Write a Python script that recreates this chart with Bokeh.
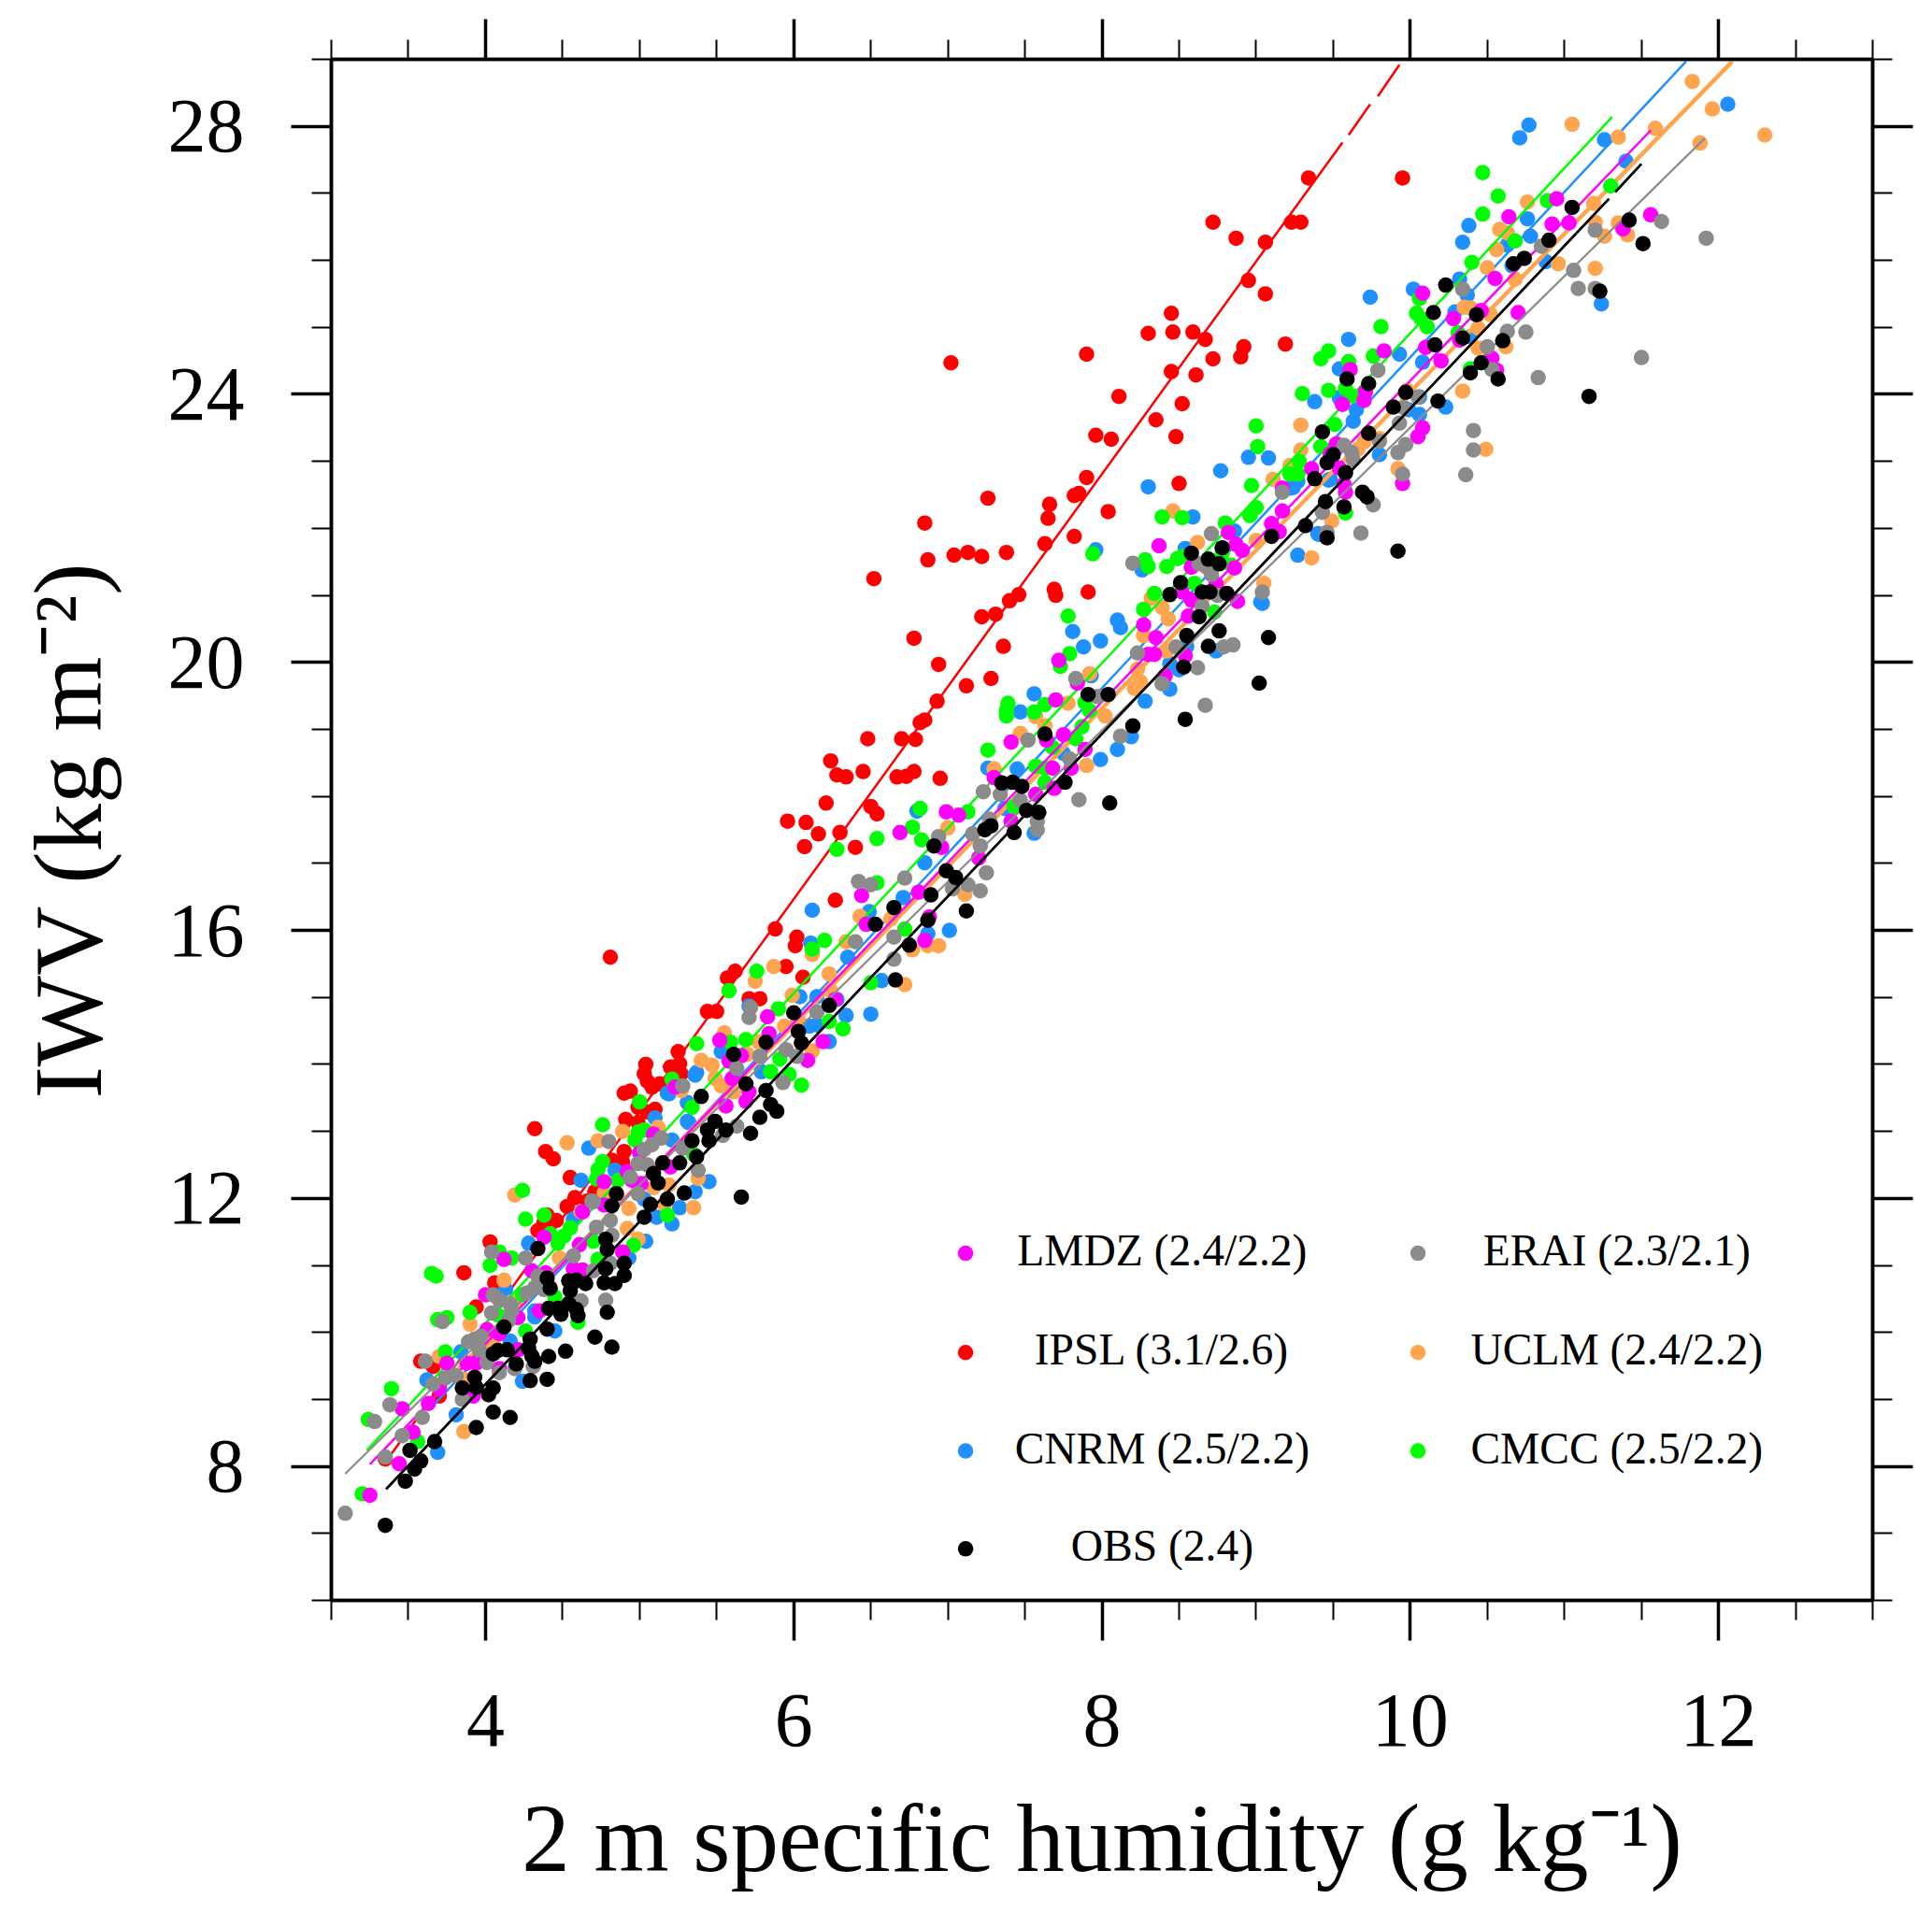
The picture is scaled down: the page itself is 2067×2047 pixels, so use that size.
from bokeh.plotting import figure
from bokeh.models import LinearAxis, FixedTicker, Range1d
from bokeh.core.properties import value
from bokeh.embed import file_html
from bokeh.resources import INLINE

FONT = "Liberation Serif"
x_title = "2 m specific humidity (g kg\u207b\u00b9)"
y_title = "IWV (kg m\u207b\u00b2)"
x_major = [4, 6, 8, 10, 12]
x_minor = [3, 3.5, 4.5, 5, 5.5, 6.5, 7, 7.5, 8.5, 9, 9.5, 10.5, 11, 11.5, 12.5, 13]
y_major = [8, 12, 16, 20, 24, 28]
y_minor = [6, 7, 9, 10, 11, 13, 14, 15, 17, 18, 19, 21, 22, 23, 25, 26, 27, 29]

ipsl_pts = [(9.34,27.23),(9.95,27.23),(8.72,26.57),(8.87,26.33),(9.23,26.57),(9.29,26.57),(9.06,26.27),(8.95,25.70),(9.06,25.50),(8.45,25.21),(8.30,24.91),(8.46,24.93),(8.59,24.93),(8.67,24.82),(7.02,24.47),(7.90,24.60),(8.92,24.71),(8.90,24.56),(8.72,24.53),(8.45,24.34),(8.61,24.29),(9.19,24.75),(8.11,23.97),(8.52,23.86),(8.35,23.62),(7.96,23.39),(8.06,23.33),(8.48,23.37),(7.90,22.76),(7.82,22.49),(7.85,22.52),(8.50,22.67),(7.26,22.45),(8.04,22.25),(7.66,22.36),(7.65,22.15),(7.82,21.88),(6.85,22.08),(6.52,21.25),(6.87,21.53),(7.04,21.6),(7.13,21.64),(7.22,21.58),(7.38,21.64),(7.63,21.77),(7.91,21.05),(7.69,21.09),(7.70,21.0),(7.46,21.01),(7.40,20.92),(7.31,20.72),(7.22,20.68),(6.78,20.36),(7.36,20.24),(6.94,19.97),(7.28,19.76),(7.12,19.65),(6.93,19.42),(6.85,19.14),(6.82,19.1),(6.70,18.86),(6.79,18.85),(6.48,18.86),(6.24,18.53),(6.45,18.37),(6.34,18.29),(6.28,18.32),(6.67,18.29),(6.78,18.37),(6.73,18.3),(6.95,18.27),(6.21,17.9),(5.96,17.63),(6.08,17.61),(6.16,17.44),(6.07,17.25),(6.3,17.46),(6.4,17.24),(6.5,17.85),(6.54,17.74),(6.27,16.45),(5.88,16.02),(4.81,15.6),(6.02,15.9),(6.01,15.77),(5.95,15.46),(6.06,15.3),(5.62,15.39),(5.57,15.29),(5.44,14.79),(5.5,14.79),(5.71,14.98),(5.78,14.98),(5.25,14.19),(5.04,14.0),(5.2,13.96),(5.26,14.01),(5.27,13.86),(5.03,13.86),(5.05,13.75),(5.08,13.66),(5.13,13.71),(4.9,13.57),(4.94,13.6),(5.1,13.33),(4.99,13.36),(5.05,13.29),(4.91,13.18),(4.99,13.13),(4.9,12.7),(4.89,12.54),(4.82,12.57),(4.71,12.1),(4.66,11.96),(4.32,13.04),(4.39,12.7),(4.44,12.59),(4.55,12.31),(4.58,12.01),(4.53,11.88),(4.72,12.05),(4.03,11.35),(3.86,10.89),(4.06,10.74),(3.94,10.38),(4.34,11.52),(4.4,11.75),(4.46,11.67),(3.58,9.57),(3.66,9.49),(3.35,8.11),(4.38,11.64),(3.7,9.05)]

cnrm_pts = [(12.06,28.33),(10.77,28.02),(10.71,27.83),(11.26,27.8),(11.4,27.48),(10.38,26.52),(10.34,26.27),(10.76,26.62),(10.78,26.36),(10.63,26.23),(10.66,25.92),(10.88,25.98),(10.32,25.72),(10.02,25.57),(9.74,25.45),(9.6,24.82),(10.37,25.48),(11.24,25.35),(10.29,25.23),(10.39,24.86),(9.93,24.6),(10.08,24.48),(9.54,24.38),(9.38,23.89),(9.54,23.95),(9.65,23.77),(9.63,23.6),(10.06,23.96),(10.06,23.7),(9.99,23.77),(10.23,23.81),(8.95,23.06),(9.08,23.05),(8.77,22.86),(9.8,23.1),(9.48,22.73),(9.27,22.7),(9.22,22.6),(9.41,21.91),(9.27,21.6),(9.03,20.9),(8.3,22.62),(9.24,22.61),(9.47,22.72),(9.4,21.92),(9.04,20.88),(8.59,22.17),(7.96,21.68),(8.1,20.63),(8.12,20.52),(7.81,20.46),(7.99,20.32),(7.88,20.23),(8.26,21.38),(8.54,21.7),(8.86,21.96),(8.55,20.24),(8.44,19.98),(8.5,19.89),(8.44,19.6),(8.74,20.17),(8.28,19.42),(7.56,19.53),(7.47,19.26),(7.93,19.8),(8.19,18.89),(8.1,18.7),(7.99,18.55),(7.75,18.64),(7.45,18.41),(7.26,18.42),(7.37,17.82),(7.56,17.45),(6.8,17.78),(6.85,17.01),(6.71,16.49),(6.12,16.3),(6.49,16.28),(7.01,16.0),(6.87,15.95),(6.11,15.81),(6.35,15.6),(6.57,15.25),(6.04,15.01),(6.28,14.97),(6.5,14.75),(6.34,14.73),(6.15,15.01),(6.1,14.57),(6.15,14.59),(6.23,14.34),(5.71,14.87),(5.53,14.19),(5.37,13.88),(5.79,13.89),(5.19,13.56),(5.31,13.43),(5.31,13.15),(5.1,13.2),(4.67,12.75),(4.62,12.27),(4.84,12.42),(5.21,12.87),(5.45,12.25),(5.36,12.1),(5.26,11.86),(5.03,11.99),(3.69,8.21),(3.81,8.77),(3.62,9.29),(4.24,9.27),(4.45,10.02),(4.13,10.64),(4.32,10.23),(4.28,11.33),(5.04,11.36),(5.21,11.62),(5.11,11.72),(5.18,13.57),(5.36,13.84),(4.57,11.69),(4.93,11.11),(3.84,9.71),(4.16,9.87),(4.32,10.32),(5.32,13.13)]

uclm_pts = [(11.83,28.67),(11.96,28.26),(12.3,27.87),(11.05,28.03),(11.59,27.97),(11.35,27.84),(11.88,27.75),(10.76,26.87),(11.19,26.85),(11.2,26.57),(11.35,26.56),(11.41,26.38),(11.26,26.36),(10.58,26.46),(10.63,26.41),(10.56,26.16),(10.5,25.89),(10.68,25.72),(10.96,25.95),(11.2,25.88),(10.35,25.3),(10.39,25.29),(10.52,25.19),(10.44,24.99),(10.44,24.69),(10.62,24.71),(10.34,24.05),(9.98,24.06),(10.49,23.18),(9.92,22.89),(9.29,23.54),(9.29,23.17),(9.22,22.94),(9.11,22.73),(9.7,23.29),(9.8,23.34),(9.49,22.11),(9.36,21.56),(9.0,21.82),(9.05,21.18),(9.66,23.18),(8.46,22.26),(8.62,21.79),(8.32,20.96),(8.39,20.82),(8.43,20.65),(8.27,20.4),(8.42,20.17),(8.23,19.9),(8.25,19.71),(8.21,19.61),(7.92,19.83),(7.78,19.39),(8.02,19.2),(7.57,19.19),(7.63,19.05),(7.47,18.94),(7.9,18.46),(7.3,18.41),(7.0,17.53),(6.43,16.21),(6.63,16.17),(6.34,15.83),(6.12,15.64),(5.87,15.46),(5.75,15.24),(6.23,15.35),(6.77,15.71),(6.87,15.77),(6.94,15.77),(6.72,15.19),(7.11,16.54),(5.99,15.03),(6.24,15.1),(5.94,14.57),(6.03,14.66),(5.55,14.47),(5.77,14.34),(6.12,14.2),(5.4,14.06),(5.47,13.99),(5.49,13.79),(5.7,14.15),(5.61,13.59),(5.27,13.61),(4.89,13.0),(4.73,12.86),(5.12,13.06),(5.38,12.3),(5.09,12.16),(5.19,12.2),(5.35,11.86),(4.93,11.85),(4.53,12.83),(4.19,12.05),(3.86,8.52),(3.9,10.12),(3.7,9.64),(4.12,10.78),(4.05,9.82),(4.99,11.39),(4.92,11.55),(4.48,11.11),(4.62,11.8),(4.17,10.45),(3.86,9.3),(4.77,12.08),(5.16,11.91),(5.53,13.68)]

cmcc_pts = [(10.47,27.31),(10.57,26.96),(10.47,26.69),(10.89,26.89),(11.3,27.11),(10.68,26.29),(10.4,25.97),(10.06,25.43),(10.04,25.21),(10.07,25.13),(10.11,25.01),(9.81,25.01),(9.47,24.65),(9.42,24.53),(9.6,24.49),(9.76,24.57),(10.31,24.92),(9.58,24.09),(9.62,23.98),(9.3,24.01),(9.47,24.06),(9.51,23.55),(9.0,23.53),(9.01,23.22),(9.42,23.22),(9.28,23.0),(9.22,22.81),(9.27,22.81),(8.97,22.64),(9.0,22.31),(8.96,22.19),(8.8,22.08),(8.78,21.63),(8.84,21.45),(9.58,22.23),(10.39,24.38),(8.39,22.17),(8.52,22.16),(7.94,21.62),(8.28,21.53),(8.3,21.43),(8.42,21.43),(8.49,21.55),(8.52,21.58),(8.34,21.03),(8.27,20.79),(8.6,21.18),(8.73,20.75),(7.78,20.69),(7.79,20.13),(7.73,19.94),(7.39,19.39),(7.38,19.28),(7.38,19.2),(7.63,19.37),(7.56,19.26),(7.26,18.69),(7.87,19.04),(7.83,18.86),(7.68,18.73),(7.89,19.4),(7.92,19.28),(7.57,18.45),(7.63,18.21),(7.43,17.85),(7.63,18.42),(6.82,17.82),(7.13,17.77),(6.77,17.54),(6.83,17.35),(6.54,17.37),(6.28,17.21),(6.54,16.71),(6.12,15.72),(6.2,15.85),(6.72,16.02),(5.76,15.39),(5.58,15.1),(6.5,15.22),(5.9,14.83),(6.23,14.64),(6.32,14.53),(5.37,14.31),(5.69,14.37),(5.59,14.33),(5.97,13.85),(6.05,13.69),(5.85,13.89),(5.91,14.08),(5.21,13.78),(5.0,13.44),(5.34,13.36),(4.76,13.1),(5.03,13.02),(4.99,12.99),(4.97,12.87),(4.76,12.55),(4.73,12.43),(4.72,12.29),(4.86,12.27),(3.39,9.16),(3.24,8.7),(3.2,7.59),(3.56,8.37),(3.74,9.71),(3.75,10.22),(3.69,10.19),(3.65,10.88),(3.68,10.84),(3.9,10.3),(4.03,11.0),(4.09,11.2),(4.17,11.11),(4.24,12.12),(4.26,11.69),(4.38,11.75),(4.26,10.02),(4.6,10.15),(4.45,10.53),(4.55,11.56),(4.51,11.44),(4.47,11.33),(4.42,11.47),(4.70,11.36),(4.73,11.09),(5.18,11.75),(4.96,11.3),(5.35,12.66),(4.24,10.56),(4.08,10.26)]

lmdz_pts = [(11.56,26.68),(10.95,26.92),(10.64,26.65),(10.92,26.54),(11.03,26.56),(11.38,26.47),(10.55,25.73),(10.7,25.22),(10.46,25.25),(10.28,25.13),(10.08,25.51),(9.83,24.65),(10.1,24.7),(10.2,24.5),(10.32,24.81),(10.53,24.54),(10.56,24.36),(9.61,24.37),(9.71,24.04),(9.7,23.91),(9.56,23.85),(10.08,23.5),(10.05,23.37),(9.95,22.67),(9.52,23.26),(9.48,23.11),(9.36,22.89),(9.54,22.9),(9.57,22.66),(9.58,22.54),(9.17,22.6),(9.17,22.26),(9.1,22.07),(9.15,21.95),(8.82,21.94),(8.87,21.76),(8.91,21.67),(8.86,21.41),(8.88,20.91),(8.37,21.74),(8.58,21.42),(8.74,21.17),(8.52,21.05),(8.58,20.93),(8.56,20.69),(8.27,20.56),(8.35,20.37),(8.3,20.12),(8.34,20.12),(8.54,20.1),(8.41,19.8),(7.72,20.03),(7.84,19.69),(7.7,19.44),(7.41,18.81),(7.75,18.92),(7.64,18.84),(7.89,18.7),(7.68,18.42),(7.8,18.42),(7.69,18.12),(7.3,18.28),(7.57,18.03),(7.41,17.63),(6.69,17.46),(6.99,17.77),(7.07,17.72),(6.96,17.24),(6.44,16.52),(6.81,16.57),(7.2,17.08),(6.47,16.09),(6.85,15.85),(6.88,16.2),(6.27,14.97),(5.83,14.71),(5.84,14.46),(5.52,14.36),(6.19,14.34),(6.09,14.06),(5.58,14.05),(5.66,14.13),(5.6,13.79),(5.71,13.59),(5.69,13.45),(5.56,13.38),(5.23,13.66),(5.09,12.96),(5.2,12.47),(4.95,12.27),(5.01,12.22),(4.77,12.25),(4.92,12.4),(5.0,12.68),(3.44,8.04),(3.25,7.57),(3.53,8.51),(3.46,8.86),(3.63,8.94),(3.75,9.54),(3.88,9.54),(3.94,9.54),(4.21,10.22),(4.0,10.56),(4.01,10.04),(4.09,9.98),(4.12,11.09),(4.38,11.42),(4.3,10.92),(4.39,10.89),(4.35,10.32),(4.63,11.8),(4.61,11.31),(4.77,11.9),(4.89,11.2),(4.57,10.95),(4.63,10.93),(4.21,9.74),(4.09,9.46),(3.92,9.05),(3.7,9.16)]

erai_pts = [(11.63,26.58),(11.92,26.33),(11.2,26.45),(11.06,25.85),(11.09,25.58),(11.2,25.58),(11.5,24.55),(10.83,24.25),(10.75,24.93),(10.63,24.94),(10.5,24.71),(10.53,24.37),(10.34,25.57),(10.85,26.21),(10.41,23.46),(10.41,23.17),(10.36,22.8),(9.93,23.57),(9.97,23.25),(9.92,23.13),(9.95,22.81),(10.05,23.96),(9.96,23.8),(9.79,24.36),(9.8,23.3),(9.57,23.24),(9.62,23.13),(9.63,23.02),(9.76,22.35),(9.68,21.93),(9.46,21.94),(9.43,22.24),(9.04,21.05),(9.17,22.54),(8.71,21.92),(8.2,21.48),(8.63,21.47),(8.68,21.42),(8.71,21.31),(8.75,21.0),(8.65,20.84),(8.48,20.23),(8.23,20.14),(7.83,19.76),(7.97,19.49),(8.39,19.68),(8.62,19.92),(8.79,20.23),(8.85,20.26),(8.67,19.36),(8.12,18.9),(7.79,18.56),(7.85,17.95),(7.52,18.84),(7.47,17.94),(7.34,18.03),(7.23,18.07),(7.58,17.63),(7.58,17.5),(7.27,17.66),(6.42,16.73),(6.5,16.68),(6.72,16.78),(6.94,17.4),(7.16,17.44),(7.21,17.26),(7.25,16.86),(7.13,16.68),(7.21,16.59),(7.03,16.62),(6.65,15.9),(6.4,15.83),(6.65,15.57),(6.15,14.78),(5.72,14.85),(5.71,14.7),(5.95,14.22),(6.02,14.12),(5.78,14.12),(5.63,13.94),(5.93,13.73),(5.28,13.68),(5.63,13.08),(5.54,12.94),(5.28,12.75),(5.14,12.9),(5.08,12.8),(5.03,12.73),(5.05,12.5),(4.99,12.52),(4.94,12.32),(4.99,12.07),(5.38,12.42),(4.8,12.85),(4.69,11.96),(3.09,7.3),(3.35,8.14),(3.28,8.67),(3.38,8.92),(3.46,8.46),(3.59,8.73),(3.66,9.23),(3.61,9.57),(3.74,9.32),(3.81,9.35),(3.85,9.0),(4.01,9.55),(3.89,9.86),(3.93,9.9),(3.97,9.94),(3.96,9.74),(3.72,10.16),(4.04,10.29),(4.09,9.4),(4.19,9.46),(4.31,9.49),(4.04,11.2),(4.05,10.56),(4.09,10.48),(4.16,10.42),(4.17,10.32),(4.15,10.18),(4.26,11.11),(4.27,10.59),(4.32,10.67),(4.34,10.84),(4.38,10.64),(4.62,10.47),(4.78,10.48),(4.70,10.92),(4.81,11.03),(4.57,11.14),(4.72,11.57),(4.81,11.67),(4.82,11.45),(4.7,11.95)]

obs_pts = [(11.42,26.60),(11.51,26.25),(11.23,25.54),(11.05,26.79),(11.16,23.97),(10.9,26.3),(10.74,26.03),(10.67,25.95),(10.23,25.63),(10.15,25.22),(10.43,25.19),(10.34,24.84),(10.16,24.74),(10.6,24.8),(10.57,24.23),(10.46,24.47),(10.39,24.32),(10.18,23.9),(9.97,24.03),(9.89,23.81),(9.59,24.23),(9.73,24.16),(9.43,23.44),(9.73,23.42),(9.50,23.1),(9.46,22.98),(9.38,22.74),(9.58,22.83),(9.69,22.54),(9.72,22.47),(9.45,22.4),(9.57,22.32),(9.46,21.86),(9.32,22.04),(9.1,21.88),(9.92,21.66),(8.78,21.71),(8.58,21.63),(8.69,21.54),(8.76,21.47),(8.51,21.19),(8.44,21.01),(8.65,21.05),(8.70,21.05),(8.81,21.03),(8.63,20.68),(8.76,20.47),(8.55,20.4),(9.08,20.37),(8.69,20.24),(8.53,19.93),(9.02,19.69),(7.91,19.52),(8.04,19.52),(8.2,19.05),(8.54,19.15),(7.63,18.93),(7.76,18.21),(8.05,17.9),(7.35,18.2),(7.42,18.21),(7.48,18.15),(7.51,17.79),(7.59,17.76),(7.28,17.56),(7.24,17.5),(7.43,17.46),(6.91,17.26),(6.99,16.89),(7.05,16.79),(6.89,16.53),(7.12,16.29),(6.65,16.34),(6.53,16.09),(6.87,16.15),(6.75,15.78),(6.66,15.26),(6.23,14.88),(6.0,14.77),(6.03,14.49),(6.05,14.32),(4.12,10.08),(4.29,9.9),(4.08,9.73),(4.05,9.68),(4.14,9.74),(4.2,9.53),(4.28,9.76),(4.3,9.65),(4.32,9.57),(4.41,9.64),(4.52,9.72),(4.71,9.93),(4.82,9.78),(4.40,10.05),(4.40,9.3),(4.29,9.28),(3.93,9.33),(3.85,9.17),(3.94,9.18),(4.05,9.17),(4.02,9.07),(4.05,8.81),(4.16,8.73),(3.94,8.58),(3.67,8.37),(3.51,8.24),(3.58,8.08),(3.54,7.96),(3.48,7.78),(3.35,7.12),(4.40,10.81),(4.42,10.66),(4.54,10.77),(4.59,10.78),(4.65,10.73),(4.55,10.62),(4.77,10.74),(4.84,10.73),(4.90,10.85),(4.9,11.03),(4.78,10.95),(4.41,10.36),(4.47,10.36),(4.49,10.27),(4.54,10.43),(4.59,10.34),(4.6,10.25),(4.34,11.25),(4.78,11.39),(4.79,11.24),(4.79,10.3),(4.82,11.89),(4.85,12.07),(5.03,11.72),(5.07,11.91),(5.18,11.99),(5.29,12.08),(5.66,12.02),(5.09,12.37),(5.12,12.23),(5.15,12.53),(5.26,12.53),(5.37,12.62),(5.34,12.86),(5.45,12.86),(5.44,13.02),(5.49,13.15),(5.56,13.02),(5.72,12.97),(5.78,13.21),(5.85,13.4),(5.89,13.3),(5.4,13.52),(5.69,13.71),(5.82,13.61),(5.82,14.33),(5.61,14.15)]

# fitted lines: (x, y) values; None marks a gap
ipsl_line = [(3.35,8.06),(9.56,27.76),(None,None),(9.6,27.87),(9.74,28.33),(None,None),(9.79,28.45),(9.93,28.92)]
cnrm_line = [(3.67,8.93),(11.79,28.97)]
uclm_line = [(3.7,9.16),(12.09,28.97)]
cmcc_line = [(3.23,8.24),(11.31,28.14)]
lmdz_line = [(3.25,8.03),(11.56,27.94)]
erai_line = [(3.09,7.89),(11.91,27.82)]
obs_line = [(3.355,7.66),(11.29,26.92),(None,None),(11.33,27.02),(11.5,27.44)]

# drawing order, bottom to top
series = [
    ("IPSL (3.1/2.6)", ipsl_pts, ipsl_line, "#ff0000", 2.5, 7.115, 9.70),
    ("CNRM (2.5/2.2)", cnrm_pts, cnrm_line, "#1e90ff", 2.5, 7.115, 8.23),
    ("UCLM (2.4/2.2)", uclm_pts, uclm_line, "#ffa54f", 4.5, 10.05, 9.70),
    ("CMCC (2.5/2.2)", cmcc_pts, cmcc_line, "#00ff00", 2.5, 10.05, 8.23),
    ("LMDZ (2.4/2.2)", lmdz_pts, lmdz_line, "#ff00ff", 2.5, 7.115, 11.18),
    ("ERAI (2.3/2.1)", erai_pts, erai_line, "#8b8b8b", 2.2, 10.05, 11.18),
    ("OBS (2.4)", obs_pts, obs_line, "#000000", 2.8, 7.115, 6.77),
]
legend_text_x = {7.115: 8.39, 10.05: 11.34}

p = figure(width=2060, height=2040, output_backend="svg", toolbar_location=None,
           x_range=Range1d(3, 13), y_range=Range1d(6, 29),
           frame_width=1649, frame_height=1649,
           min_border_left=354, min_border_right=57, min_border_top=63, min_border_bottom=328,
           x_axis_location=None, y_axis_location=None)
p.grid.visible = False
p.outline_line_color = "black"
p.outline_line_width = 3.5


def make_axis(ticks, minors, labelled, standoff, title=None, title_standoff=0):
    ax = LinearAxis(ticker=FixedTicker(ticks=ticks, minor_ticks=minors))
    ax.axis_line_width = 3.5
    ax.major_tick_in = 0
    ax.minor_tick_in = 0
    ax.major_tick_out = 43
    ax.minor_tick_out = 21
    ax.major_tick_line_width = 3.5
    ax.minor_tick_line_width = 2
    ax.major_label_standoff = standoff if labelled else 0
    ax.major_label_text_font = FONT
    ax.major_label_text_font_size = "82px" if labelled else "0px"
    ax.major_label_text_color = "black" if labelled else None
    if title:
        ax.axis_label = title
        ax.axis_label_text_font = FONT
        ax.axis_label_text_font_size = "103px"
        ax.axis_label_text_font_style = "normal"
        ax.axis_label_text_color = "black"
        ax.axis_label_standoff = title_standoff
    return ax


p.add_layout(make_axis(x_major, x_minor, True, 58, x_title, 39), "below")
p.add_layout(make_axis(x_major, x_minor, False, 0), "above")
p.add_layout(make_axis(y_major, y_minor, True, 50, y_title, 47), "left")
p.add_layout(make_axis(y_major, y_minor, False, 0), "right")

for name, pts, line, color, lw, lx, ly in series:
    p.line([a if a is not None else float("nan") for a, _ in line],
           [b if b is not None else float("nan") for _, b in line],
           line_color=color, line_width=lw)
    p.scatter([a for a, _ in pts], [b for _, b in pts], size=16.5,
              fill_color=color, line_color=None)

for name, pts, line, color, lw, lx, ly in series:
    p.scatter([lx], [ly], size=16.5, fill_color=color, line_color=None)
    p.text([legend_text_x[lx]], [ly], text=[name], text_font=value(FONT),
           text_font_size="47.5px", text_align="center", text_baseline="middle",
           y_offset=-3, text_color="black")

open("out.html", "w").write(file_html(p, INLINE))
